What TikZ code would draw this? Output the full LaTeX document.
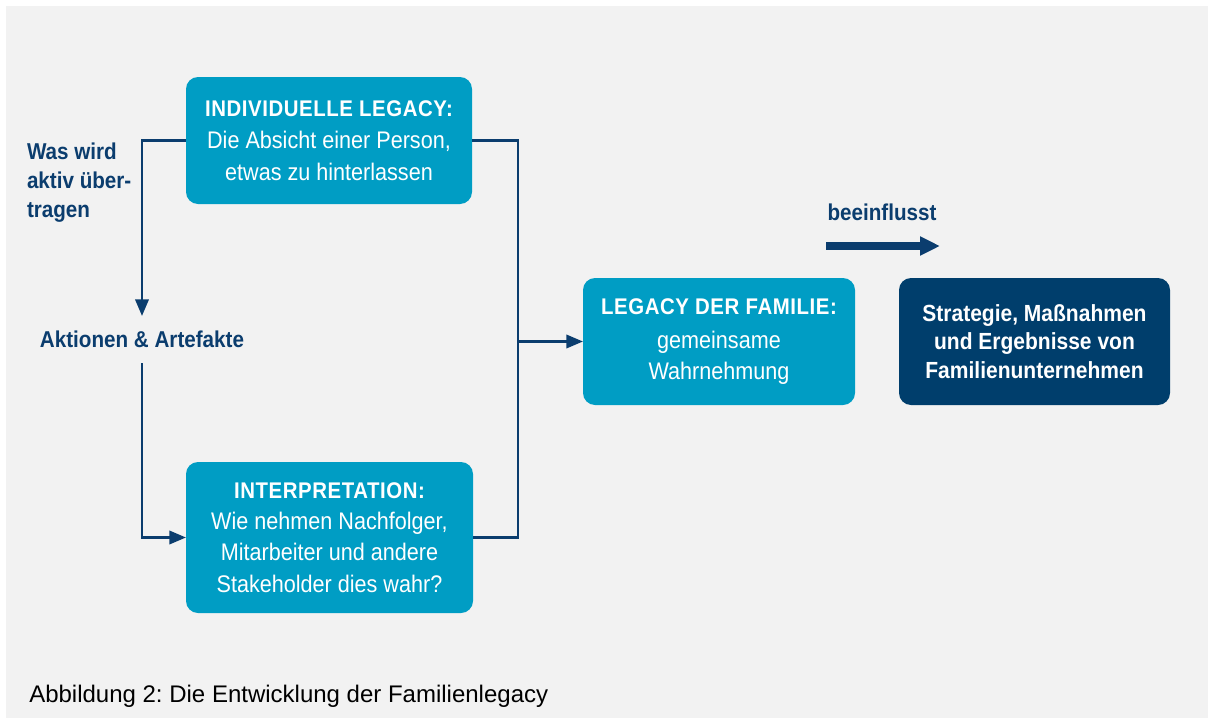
\documentclass[tikz,border=0pt]{standalone}
\usepackage{fontspec}
\setmainfont{Liberation Sans}
\newfontfamily\cnfont[FakeStretch=0.9]{Liberation Sans}
\newfontfamily\titlefont[FakeStretch=0.9,LetterSpace=2.5]{Liberation Sans}
\usetikzlibrary{arrows.meta}
\frenchspacing
\definecolor{bgray}{HTML}{F2F2F2}
\definecolor{teal}{HTML}{009DC4}
\definecolor{navy}{HTML}{003E6C}
\definecolor{linenavy}{HTML}{0B3D6E}
\tikzset{
  box/.style={rounded corners=9pt, fill=teal, text=white, align=center,
    inner sep=0pt, outer sep=0pt, font=\cnfont\fontsize{18pt}{23.5pt}\selectfont},
  darkbox/.style={box, fill=navy, font=\cnfont\bfseries\fontsize{17.5pt}{21.5pt}\selectfont},
  lbl/.style={text=linenavy, inner sep=0pt, outer sep=0pt,
    font=\cnfont\bfseries\fontsize{17.2pt}{21.7pt}\selectfont},
  conn/.style={draw=linenavy, line width=2pt},
  arr/.style={conn, -{Triangle[length=12.5pt,width=10pt]}},
}
\newcommand{\ttl}[1]{{\titlefont\bfseries\fontsize{17pt}{23.5pt}\selectfont #1}}
\begin{document}
\begin{tikzpicture}[x=0.75pt,y=-0.75pt]
  \useasboundingbox (0,0) rectangle (1208,725);
  \fill[bgray] (6,6) rectangle (1208,718);

  % boxes
  \node[box, minimum width=214.5pt, minimum height=95.25pt] (b1) at (329,140.5)
    {\ttl{INDIVIDUELLE LEGACY:}\\[1pt]Die Absicht einer Person,\\etwas zu hinterlassen};
  \node[box, minimum width=215.25pt, minimum height=113.25pt] (b2) at (329.5,537.5)
    {\ttl{INTERPRETATION:}\\Wie nehmen Nachfolger,\\Mitarbeiter und andere\\Stakeholder dies wahr?};
  \node[box, minimum width=204pt, minimum height=95.25pt] (b3) at (719,341.5)
    {\ttl{LEGACY DER FAMILIE:}\\[2pt]gemeinsame\\Wahrnehmung};
  \node[darkbox, minimum width=203.25pt, minimum height=95.25pt] (b4) at (1034.5,341.5)
    {Strategie, Maßnahmen\\und Ergebnisse von\\Familienunternehmen};

  % labels
  \node[lbl, align=left, anchor=west] (was) at (27,183)
    {Was wird\\aktiv über-\\tragen};
  \node[lbl, minimum height=35.25pt] (aa) at (142,339.5) {Aktionen \& Artefakte};
  \node[lbl] (bf) at (882,212) {beeinflusst};
  \node[inner sep=0pt, anchor=west, font=\fontsize{18pt}{20pt}\selectfont] (cap) at (29,696)
    {Abbildung 2: Die Entwicklung der Familienlegacy};

  % connectors
  \coordinate (j) at (518,341.5);
  \draw[arr] (b1.west) -| (aa.north);
  \draw[arr] (aa.south) |- (b2.west);
  \draw[conn] (b1.east) -| (j) |- (b2.east);
  \draw[arr] (j) -- (b3.west);

  % thick influence arrow
  \coordinate (ia) at (826,246);
  \coordinate (ib) at (940,246);
  \draw[draw=linenavy, line width=6pt, -{Triangle[length=15pt,width=13.5pt]}] (ia) -- (ib);
\end{tikzpicture}
\end{document}
